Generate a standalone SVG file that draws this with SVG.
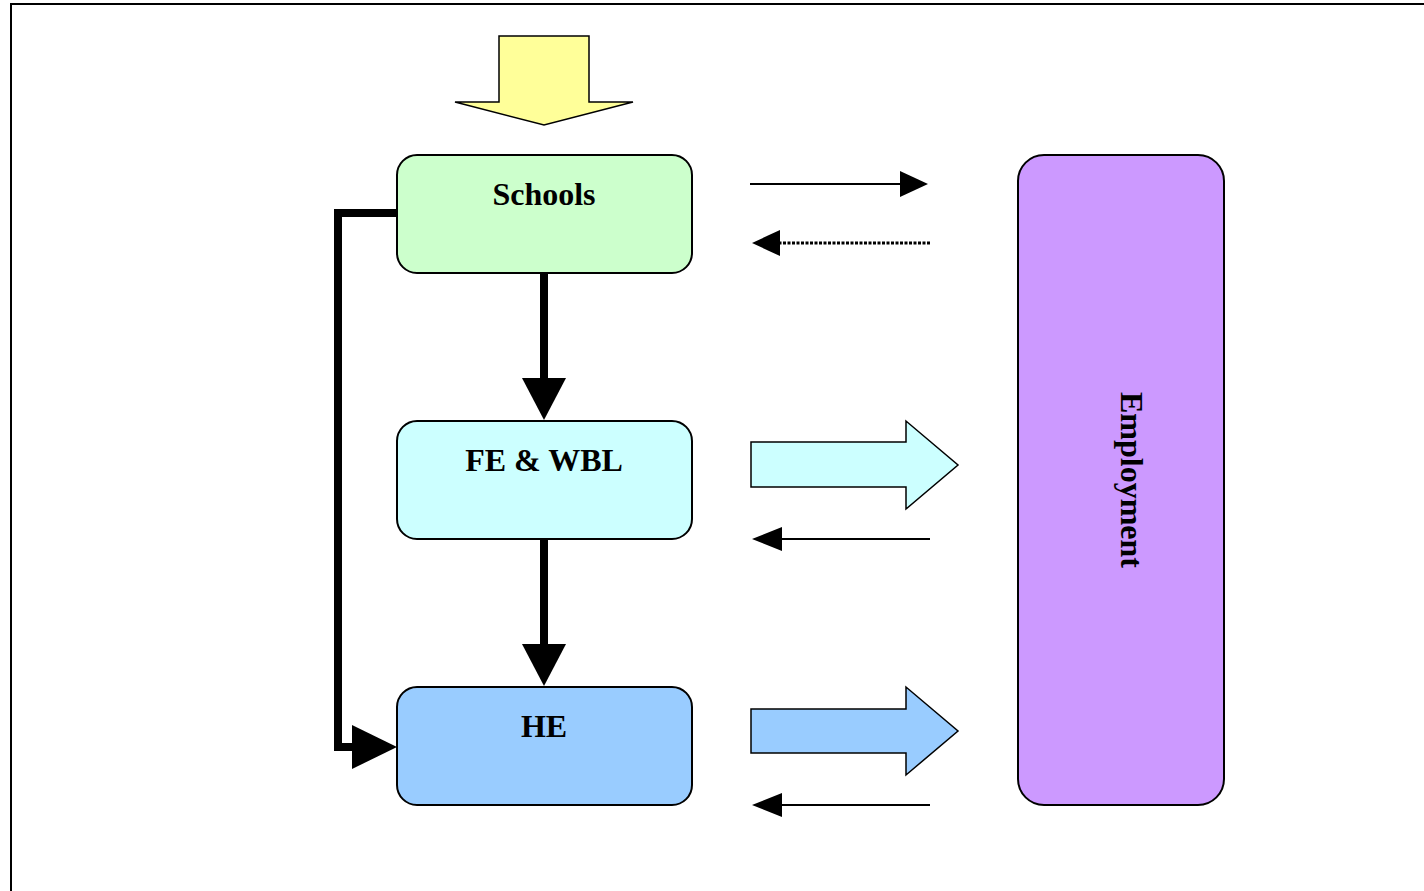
<svg xmlns="http://www.w3.org/2000/svg" width="1424" height="891" viewBox="0 0 1424 891">
<style>
.box{stroke:#000;stroke-width:2}
.lbl{font-family:"Liberation Serif","Times New Roman",serif;font-weight:bold;font-size:32px;fill:#000;text-anchor:middle}
.thin{stroke:#000;stroke-width:2;fill:none}
.thick{stroke:#000;stroke-width:8;fill:none}
</style>
<rect width="1424" height="891" fill="#fff"/>
<path d="M11,891 V4 H1424" fill="none" stroke="#000" stroke-width="2"/>
<g id="input-arrow">
<polygon points="499,36 589,36 589,102 633,102 544,125 455,102 499,102" fill="#ffff99" stroke="#000" stroke-width="1.5"/>
</g>
<g id="schools">
<rect class="box" x="397" y="155" width="295" height="118" rx="20" fill="#ccffcc"/>
<text class="lbl" x="544" y="205">Schools</text>
</g>
<g id="fe-wbl">
<rect class="box" x="397" y="421" width="295" height="118" rx="20" fill="#ccffff"/>
<text class="lbl" x="544" y="471">FE &amp; WBL</text>
</g>
<g id="he">
<rect class="box" x="397" y="687" width="295" height="118" rx="20" fill="#99ccff"/>
<text class="lbl" x="544" y="737">HE</text>
</g>
<g id="employment">
<rect class="box" x="1018" y="155" width="206" height="650" rx="26" fill="#cc99ff"/>
<text class="lbl" transform="translate(1121,480) rotate(90)" x="0" y="0">Employment</text>
</g>
<g id="connectors">
<line class="thick" x1="544" y1="273" x2="544" y2="380"/>
<polygon points="522,378 566,378 544,420"/>
<line class="thick" x1="544" y1="539" x2="544" y2="646"/>
<polygon points="522,644 566,644 544,686"/>
<polyline class="thick" points="397,213 338,213 338,747 356,747"/>
<polygon points="352,725 352,769 397,747"/>
<line class="thin" x1="750" y1="184" x2="902" y2="184"/>
<polygon points="900,171 900,197 928,184"/>
<line stroke="#000" stroke-width="3" stroke-dasharray="3,1.5" x1="930" y1="243" x2="778" y2="243"/>
<polygon points="780,230 780,256 752,243"/>
<line class="thin" x1="930" y1="539" x2="780" y2="539"/>
<polygon points="782,527 782,551 752,539"/>
<line class="thin" x1="930" y1="805" x2="780" y2="805"/>
<polygon points="782,793 782,817 752,805"/>
<polygon points="751,442 906,442 906,421 958,465 906,509 906,487 751,487" fill="#ccffff" stroke="#000" stroke-width="1.5"/>
<polygon points="751,709 906,709 906,687 958,731 906,775 906,753 751,753" fill="#99ccff" stroke="#000" stroke-width="1.5"/>
</g>
</svg>
